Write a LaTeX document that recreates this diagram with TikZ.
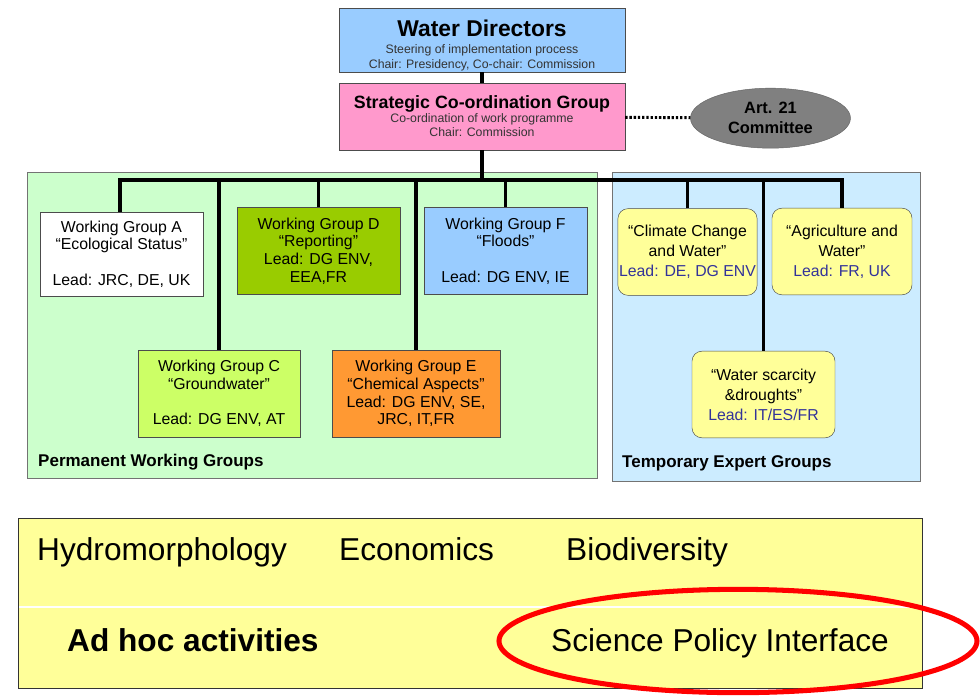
\documentclass[tikz,border=0pt]{standalone}
\usepackage{fontspec}
\setmainfont{Liberation Sans}
\usetikzlibrary{positioning, shapes.geometric}
\definecolor{wdblue}{HTML}{99CCFF}
\definecolor{scgpink}{HTML}{FF99CC}
\definecolor{pwggreen}{HTML}{CCFFCC}
\definecolor{tegblue}{HTML}{CCECFF}
\definecolor{wgdgreen}{HTML}{99CC00}
\definecolor{wgclime}{HTML}{CCFF66}
\definecolor{wgeorange}{HTML}{FF9933}
\definecolor{tegyellow}{HTML}{FFFF99}
\definecolor{leadblue}{HTML}{333399}
\newcommand{\subline}[1]{{\fontsize{10.5}{13}\selectfont\textcolor{black!80}{#1}}}

\begin{document}
\begin{tikzpicture}[x=0.3mm, y=-0.3mm, node distance=5mm,
	wg/.style={draw=black!70, align=center, inner sep=1pt, font=\fontsize{13.5}{15}\selectfont, minimum height=26mm},
	teg/.style={wg, rounded corners=3mm, fill=tegyellow, minimum width=42mm, font=\fontsize{13.5}{17}\selectfont},
	panel/.style={draw=black!55},
	bus/.style={line width=3pt},
	big/.style={inner sep=0pt, anchor=base west, font=\fontsize{27}{30}\selectfont}]
	\useasboundingbox (0,0) rectangle (980,700);
	\draw[panel, fill=pwggreen] (27,172) rectangle (597,478);
	\draw[panel, fill=tegblue] (612,172) rectangle (920,481);
	\node[draw=black!70, fill=wdblue, align=center, minimum width=85.8mm, minimum height=19.2mm, inner xsep=1pt, inner ysep=0pt] (wd) at (482,40)
		{\rule{0pt}{24pt}{\bfseries\fontsize{19.5}{23}\selectfont Water Directors}\\[2pt]
		\subline{Steering of implementation process}\\[1pt] \subline{Chair: Presidency, Co-chair: Commission}};
	\node[draw=black!70, fill=scgpink, align=center, minimum width=85.8mm, minimum height=20.1mm, inner sep=1pt] (scg) at (482,116.5)
		{{\bfseries\fontsize{15.2}{17}\selectfont Strategic Co-ordination Group}\\
		\subline{Co-ordination of work programme}\\ \subline{Chair: Commission}};
	\node[ellipse, draw=black!60, fill=black!50, minimum width=48mm, minimum height=18mm, inner sep=0pt, align=center,
		font=\bfseries\fontsize{14}{17}\selectfont, right=19.5mm of scg, yshift=-0.5mm] (art) {Art. 21\\Committee};
	\draw[line width=2.5pt, dash pattern=on 2pt off 1.6pt] (scg) -- (art);
	\draw[bus] (wd) -- (scg);
	\node[wg, fill=white, minimum width=48.9mm, minimum height=25.2mm] (wgA) at (121.5,254)
		{Working Group A\\“Ecological Status”\\[15pt] Lead: JRC, DE, UK};
	\node[wg, fill=wgdgreen, minimum width=48.9mm] (wgD) at (318.5,251)
		{Working Group D\\“Reporting”\\Lead: DG ENV,\\EEA,FR};
	\node[wg, fill=wdblue, minimum width=48.9mm] (wgF) at (505.5,251)
		{Working Group F\\“Floods”\\[15pt] Lead: DG ENV, IE};
	\node[wg, fill=wgclime, minimum width=48.6mm] (wgC) at (219,393.5)
		{Working Group C\\“Groundwater”\\[15pt] Lead: DG ENV, AT};
	\node[wg, fill=wgeorange, minimum width=50.4mm] (wgE) at (416,393.5)
		{Working Group E\\“Chemical Aspects”\\Lead: DG ENV, SE,\\JRC, IT,FR};
	\node[teg, minimum width=41.7mm] (clim) at (687.5,252)
		{“Climate Change\\and Water”\\\textcolor{leadblue}{Lead: DE, DG ENV}};
	\node[teg] (agri) at (842,251.5)
		{“Agriculture and\\Water”\\\textcolor{leadblue}{Lead: FR, UK}};
	\node[teg, minimum width=42.9mm] (scar) at (763.5,394.5)
		{“Water scarcity\\\&droughts”\\\textcolor{leadblue}{Lead: IT/ES/FR}};
	\coordinate (busL) at (120,180);
	\draw[bus] (scg) -- (scg.south |- busL);
	\draw[bus] (wgA.north -| busL) |- (agri.north |- busL) -- (agri.north);
	\foreach \g in {wgC, wgD, wgE, wgF, clim, scar}
		\draw[bus] (\g.north) -- (\g.north |- busL);
	\node[inner sep=0pt, anchor=west, font=\bfseries\fontsize{14.5}{17}\selectfont] (pwg) at (38,462) {Permanent Working Groups};
	\node[inner sep=0pt, anchor=west, font=\bfseries\fontsize{14.5}{17}\selectfont] (tegl) at (622,463) {Temporary Expert Groups};
	\draw[draw=black!80, fill=tegyellow] (18,518) rectangle (922,688);
	\draw[white, line width=1pt] (19,607) -- (921,607);
	\node[big] (hydro) at (37,560) {Hydromorphology};
	\node[big] (eco) at (339,560) {Economics};
	\node[big] (bio) at (566,560) {Biodiversity};
	\node[big, font=\bfseries\fontsize{27}{30}\selectfont] (adhoc) at (67,651) {Ad hoc activities};
	\node[big] (spi) at (551,651) {Science Policy Interface};
	\draw[red, line width=4.3pt] (738,641) ellipse [x radius=71.7mm, y radius=15.5mm];
\end{tikzpicture}
\end{document}
